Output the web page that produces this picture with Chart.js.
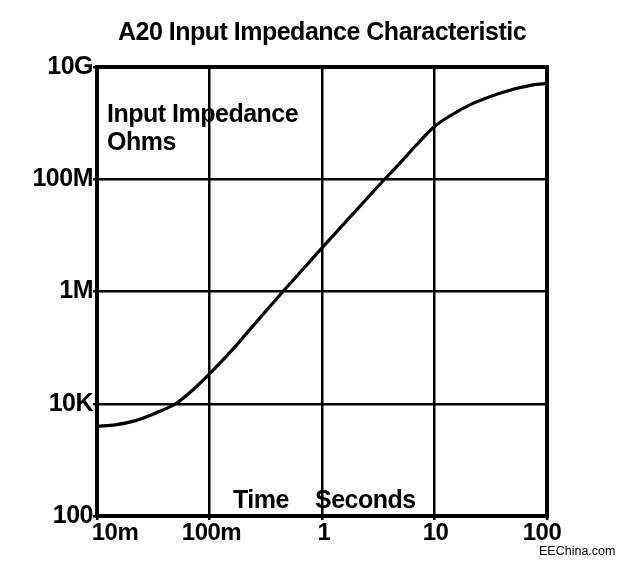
<!DOCTYPE html>
<html><head><meta charset="utf-8">
<script src="https://cdn.jsdelivr.net/npm/chart.js@4.4.1/dist/chart.umd.min.js"></script>
<style>html,body{margin:0;padding:0;background:#fff;}#wrap{width:619px;height:564px;position:relative;}</style>
</head><body><div id="wrap"><canvas id="c" width="619" height="564"></canvas></div>
<script>
const timeSeconds = [0.01, 0.0145, 0.022, 0.033, 0.05, 0.074, 0.1, 0.17, 0.25, 0.45, 1, 2.5, 3.6, 5, 7, 10, 14, 20, 40, 75, 100];
const impedanceOhms = [4000, 4200, 5000, 6800, 10000, 19000, 34000, 105000, 260000, 1.0e6, 6.0e6, 4.5e7, 1.0e8, 2.0e8, 4.2e8, 8.7e8, 1.38e9, 2.05e9, 3.5e9, 4.8e9, 5.1e9];
const xTickValues = [0.01, 0.1, 1, 10, 100];
const xTickLabels = ['10m', '100m', '1', '10', '100'];
const yTickValues = [1e2, 1e4, 1e6, 1e8, 1e10];
const yTickLabels = ['100', '10K', '1M', '100M', '10G'];

const FONT = '"Liberation Sans", Arial, Helvetica, sans-serif';
const xLabelShift = [18, 2, 2, 1, -5];

const textPlugin = {
  id: 'textPlugin',
  beforeDraw(chart) { chart.ctx.letterSpacing = '-0.5px'; },
  afterDraw(chart) {
    const ctx = chart.ctx, a = chart.chartArea, xs = chart.scales.x;
    ctx.save();
    ctx.strokeStyle = '#000';
    ctx.lineWidth = 4;
    ctx.strokeRect(a.left, a.top, a.right - a.left, a.bottom - a.top);
    ctx.fillStyle = '#000';
    ctx.letterSpacing = '-0.5px';
    ctx.font = 'bold 24px ' + FONT;
    ctx.textAlign = 'center';
    ctx.textBaseline = 'alphabetic';
    xTickValues.forEach((v, i) => {
      ctx.fillText(xTickLabels[i], xs.getPixelForValue(v) + xLabelShift[i], a.bottom + 24);
    });
    ctx.textAlign = 'left';
    ctx.font = 'bold 25px ' + FONT;
    ctx.fillText('Input Impedance', a.left + 10, a.top + 55);
    ctx.fillText('Ohms', a.left + 10, a.top + 83);
    ctx.fillText('Time', 233, a.bottom - 8);
    ctx.fillText('Seconds', 315, a.bottom - 8);
    ctx.letterSpacing = '0px';
    ctx.font = '12.5px ' + FONT;
    ctx.fillText('EEChina.com', 539, 555);
    ctx.restore();
  }
};

new Chart(document.getElementById('c'), {
  type: 'scatter',
  data: {
    datasets: [{
      data: timeSeconds.map((t, i) => ({ x: t, y: impedanceOhms[i] })),
      showLine: true,
      borderColor: '#000',
      borderWidth: 3.2,
      pointRadius: 0,
      cubicInterpolationMode: 'monotone',
      fill: false
    }]
  },
  options: {
    responsive: false,
    animation: false,
    devicePixelRatio: 1,
    layout: { padding: { left: 0, right: 72, top: 0, bottom: 0 } },
    plugins: {
      legend: { display: false },
      tooltip: { enabled: false },
      title: {
        display: true,
        text: 'A20 Input Impedance Characteristic',
        fullSize: false,
        color: '#000',
        font: { family: FONT, size: 25, weight: 'bold', lineHeight: 1.2 },
        padding: { top: 18, bottom: 19 }
      }
    },
    scales: {
      x: {
        type: 'logarithmic',
        min: 0.01, max: 100,
        afterBuildTicks: s => { s.ticks = xTickValues.map(v => ({ value: v })); },
        afterFit: s => { s.height = 48; },
        grid: { color: '#000', lineWidth: 2.5, tickLength: 4, drawTicks: true },
        border: { display: false },
        ticks: { display: false, autoSkip: false }
      },
      y: {
        type: 'logarithmic',
        min: 100, max: 1e10,
        afterBuildTicks: s => { s.ticks = yTickValues.map(v => ({ value: v })); },
        afterFit: s => { s.width = 97; },
        grid: { color: '#000', lineWidth: 2.5, tickLength: 4, drawTicks: true },
        border: { display: false },
        ticks: {
          autoSkip: false,
          padding: 0,
          color: '#000',
          font: { family: FONT, size: 25, weight: 'bold' },
          callback: v => { const i = yTickValues.indexOf(v); return i >= 0 ? yTickLabels[i] : ''; }
        }
      }
    }
  },
  plugins: [textPlugin]
});
</script></body></html>
